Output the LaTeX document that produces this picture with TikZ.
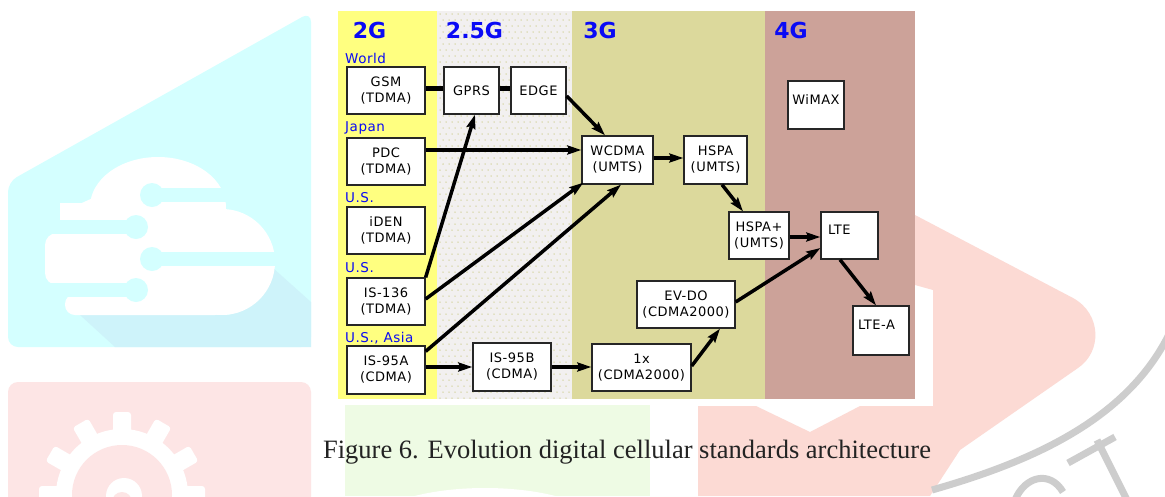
\documentclass[tikz,border=0pt]{standalone}
\usepackage{fontspec}
\usepackage{graphicx}
\setmainfont{Liberation Serif}
\newfontfamily\boxfont[LetterSpace=4]{DejaVu Sans}
\newfontfamily\genfont{DejaVu Sans}
\usetikzlibrary{calc,arrows.meta}
\definecolor{bandyellow}{RGB}{255,255,128}
\definecolor{bandgray}{RGB}{242,240,240}
\definecolor{banddot}{RGB}{208,208,150}
\definecolor{bandkhaki}{RGB}{220,217,156}
\definecolor{bandrose}{RGB}{204,162,153}
\definecolor{labelblue}{RGB}{10,10,245}
\definecolor{wmcyan}{RGB}{212,255,255}
\definecolor{wmcyanshadow}{RGB}{206,243,250}
\definecolor{wmpink}{RGB}{253,229,229}
\definecolor{wmgreen}{RGB}{238,251,228}
\definecolor{wmsalmon}{RGB}{252,218,212}
\definecolor{wmgray}{RGB}{205,205,205}
\definecolor{capgray}{RGB}{35,35,35}
\begin{document}
\begin{tikzpicture}[x=1pt, y=-1pt,
  stdbox/.style={draw=black!85, line width=1.3pt, fill=white, inner sep=0pt, align=center,
    font=\boxfont\fontsize{13}{16}\selectfont},
  gen/.style={font=\genfont\bfseries\fontsize{22}{24}\selectfont, text=labelblue, anchor=base, inner sep=0pt},
  region/.style={font=\boxfont\fontsize{13.5}{15}\selectfont, text=labelblue, anchor=base west, inner sep=0pt},
  bar/.style={line width=5pt},
  arr/.style={line width=3.5pt, -{Stealth[length=14pt,width=9pt,inset=2pt]}},
  wmline/.style={draw=wmgray, line width=7pt}
]
\clip (0,0) rectangle (1165,496);
\fill[white] (0,0) rectangle (1165,496);

% ---------- background watermark ----------
% cyan block with cloud
\fill[wmcyan, rounded corners=10pt] (311,12) -- (8,182) -- (8,347) -- (311,347) -- cycle;
\fill[wmcyanshadow] (80,315) -- (230,315) -- (273,268) -- (311,302) -- (311,347) -- (115,347) -- cycle;
\fill[white] (158,207) ellipse [x radius=68pt, y radius=50pt];
\fill[white] (60,222) -- (60,213) -- (95,197) -- (140,197) -- (140,222) -- cycle;
\fill[white] (60,203) rectangle (225,222);
\fill[white, rounded corners=12pt] (45,233) rectangle (225,285);
\fill[white, rounded corners=10pt] (65,294) rectangle (225,315);
\fill[white] (130,215) rectangle (225,300);
\fill[white] (222,262) circle (53pt);
\draw[wmcyan, line width=14pt] (152,195) -- (300,195);
\fill[wmcyan] (152,195) circle (12pt);
\draw[wmcyan, line width=14pt] (30,227) -- (136,227);
\fill[wmcyan] (136,227) circle (12pt);
\draw[wmcyan, line width=14pt] (152,259) -- (300,259);
\fill[wmcyan] (152,259) circle (12pt);
\draw[wmcyan, line width=14pt] (30,290) -- (136,290);
\fill[wmcyan] (136,290) circle (12pt);
% pink block with gear
\fill[wmpink, rounded corners=10pt] (8,382) rectangle (311,530);
\fill[white] (122,495) circle (66pt);
\foreach \a in {0,30,...,330}
  \fill[white, rounded corners=3pt, rotate around={\a:(122,495)}] (113,412) rectangle (131,440);
\fill[wmpink] (122,495) circle (50pt);
\fill[white] (124,496) circle (18pt);
\fill[wmpink] (122,502) circle (10pt);
% green block
\fill[wmgreen] (345,405) rectangle (650,496);
\fill[white] (485,530) ellipse [x radius=120pt, y radius=42pt];
% salmon shape
\fill[wmsalmon] (698,496) -- (698,406) -- (756,406) -- (810,432) -- (860,406) -- (933,406)
  -- (933,290) -- (915,285) -- (915,215) -- (1073,298)
  .. controls (1102,314) and (1102,352) .. (1078,368) -- (960,450) -- (930,496) -- cycle;
% grey strokes
\draw[wmline] (1172,328) .. controls (1130,420) and (1030,462) .. (932,490);
\draw[wmline] (1068,463) -- (1115,437);
\draw[wmline] (1097,440) -- (1127,500);
\draw[wmline] (1015,500) .. controls (1025,476) and (1050,470) .. (1063,492);

% ---------- panel ----------
\fill[bandyellow] (338,11) rectangle (437,399);
\fill[bandgray] (437,11) rectangle (572,399);
\foreach \yy in {14,26,...,398}
  \foreach \xx in {440,446,...,570}
    \fill[banddot] (\xx,\yy) circle (0.75pt);
\foreach \yy in {20,32,...,398}
  \foreach \xx in {443,449,...,570}
    \fill[banddot] (\xx,\yy) circle (0.75pt);
\fill[bandkhaki] (572,11) rectangle (765,399);
\fill[bandrose] (765,11) rectangle (915,399);

% generation titles
\node[gen] (t2g) at (369.5,38) {2G};
\node[gen] (t25g) at (474.5,38) {2.5G};
\node[gen] (t3g) at (600,38) {3G};
\node[gen] (t4g) at (791,38) {4G};

% region labels
\node[region] (rworld) at (345,63) {World};
\node[region] (rjapan) at (345,131.5) {Japan};
\node[region] (rus1) at (345,202) {U.S.};
\node[region] (rus2) at (345,272.5) {U.S.};
\node[region] (rusasia) at (345,342) {U.S., Asia};

% boxes
\node[stdbox, minimum width=78pt, minimum height=47pt] (gsm) at (386,90.5) {GSM\\(TDMA)};
\node[stdbox, minimum width=78pt, minimum height=47pt] (pdc) at (386,161.5) {PDC\\(TDMA)};
\node[stdbox, minimum width=78pt, minimum height=47pt] (iden) at (386,230.5) {iDEN\\(TDMA)};
\node[stdbox, minimum width=78pt, minimum height=47pt] (is136) at (386,301.5) {IS-136\\(TDMA)};
\node[stdbox, minimum width=78pt, minimum height=48pt] (is95a) at (386,370) {IS-95A\\(CDMA)};
\node[stdbox, minimum width=55pt, minimum height=47pt] (gprs) at (471.5,90.5) {GPRS};
\node[stdbox, minimum width=55pt, minimum height=47pt] (edge) at (538.5,90.5) {EDGE};
\node[stdbox, minimum width=78pt, minimum height=48pt] (is95b) at (512,367) {IS-95B\\(CDMA)};
\node[stdbox, minimum width=71pt, minimum height=48pt] (wcdma) at (617.5,160) {WCDMA\\(UMTS)};
\node[stdbox, minimum width=63pt, minimum height=48pt] (hspa) at (715.5,160) {HSPA\\(UMTS)};
\node[stdbox, minimum width=60pt, minimum height=47pt] (hspap) at (759,235.5) {HSPA+\\(UMTS)};
\node[stdbox, minimum width=98pt, minimum height=47pt] (evdo) at (686,304.5) {EV-DO\\(CDMA2000)};
\node[stdbox, minimum width=99pt, minimum height=47pt] (onex) at (641.5,367.5) {1x\\(CDMA2000)};
\node[stdbox, minimum width=56pt, minimum height=48pt, text height=9.5pt, text depth=10pt] (wimax) at (816,105) {WiMAX};
\node[stdbox, minimum width=57pt, minimum height=47pt, text height=9.5pt, text depth=11pt] (lte) at (849.5,235.5) {\makebox[43pt][l]{LTE}};
\node[stdbox, minimum width=56pt, minimum height=49pt, text height=9.5pt, text depth=11pt] (ltea) at (881,330.5) {\makebox[46pt][l]{LTE-A}};

% connectors
\draw[bar] ($(gsm.east)+(0,-2.5)$) -- ($(gprs.west)+(0,-2.5)$);
\draw[bar] ($(gprs.east)+(0,-2.5)$) -- ($(edge.west)+(0,-2.5)$);
\draw[arr] ($(edge.east)+(0,5.5)$) -- ($(wcdma.north)+(-12.5,0)$);
\draw[arr] ($(pdc.east)+(0,-11.5)$) -- ($(wcdma.west)+(0,-10)$);
\draw[arr] (is136.north east) -- ($(gprs.south)+(3.5,0)$);
\draw[arr] ($(is136.east)+(0,-2.5)$) -- ($(wcdma.south west)+(2,-2)$);
\draw[arr] ($(is95a.north east)+(0,6)$) -- ($(wcdma.south)+(3.5,0)$);
\draw[arr] ($(is95a.east)+(0,-3)$) -- (is95b.west);
\draw[arr] (is95b.east) -- ($(onex.west)+(0,-0.5)$);
\draw[arr] ($(onex.east)+(0,-1.5)$) -- ($(evdo.south)+(34,0)$);
\draw[arr] ($(evdo.east)+(0,-2.5)$) -- ($(lte.west)+(0,12.5)$);
\draw[arr] ($(hspap.east)+(0,1.5)$) -- ($(lte.west)+(0,1.5)$);
\draw[arr] ($(wcdma.east)+(0,-2)$) -- ($(hspa.west)+(0,-2)$);
\draw[arr] ($(hspa.south)+(6.5,0)$) -- ($(hspap.north)+(-16,0)$);
\draw[arr] ($(lte.south)+(-9.5,0)$) -- ($(ltea.north)+(-5,0)$);

% caption
\node[font=\fontsize{26.5}{30}\selectfont, text=capgray, anchor=base, inner sep=0pt] (caption) at (627,458)
  {Figure 6. Evolution digital cellular standards architecture};
\end{tikzpicture}
\end{document}
